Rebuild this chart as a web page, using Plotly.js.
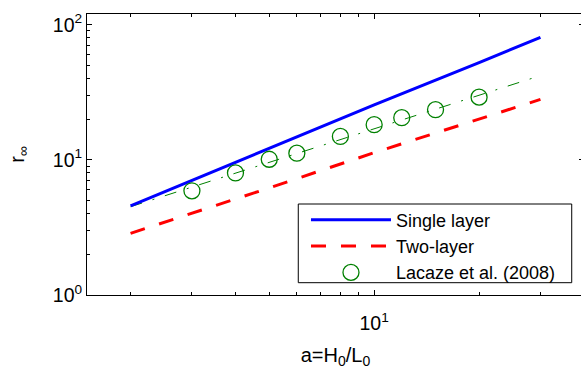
<!DOCTYPE html>
<html>
<head>
<meta charset="utf-8">
<script src="https://cdn.plot.ly/plotly-3.0.1.min.js"></script>
<style>
html,body{margin:0;padding:0;overflow:hidden;background:#fff;}
#chart{width:586px;height:370px;}
</style>
</head>
<body>
<div id="chart"></div>
<script>
// Single layer model (solid blue)
var singleX = [2, 5, 10, 20, 30];
var singleY = [4.56, 12.1, 25.5, 52.5, 80.5];
// Two-layer model (dashed red)
var twoX = [2, 5, 10, 20, 30];
var twoY = [2.86, 6.2, 11.3, 19.9, 28.0];
// Lacaze et al. (2008) measurements (open green circles)
var lacazeX = [3, 4, 5, 6, 8, 10, 12, 15, 20];
var lacazeY = [5.9, 8.0, 10.1, 11.2, 14.9, 18.2, 20.5, 23.5, 29.1];
// Fit through Lacaze data (green dash-dot, no legend entry)
var fitX = [2, 30];
var fitY = [4.5, 42];

var xMajor = [10];
var xMajorText = ['10<sup>1</sup>'];
var xMinor = [2, 3, 4, 5, 6, 7, 8, 9, 20, 30];
var yMajor = [1, 10, 100];
var yMajorText = ['10<sup>0</sup>', '10<sup>1</sup>', '10<sup>2</sup>'];
var yMinor = [2, 3, 4, 5, 6, 7, 8, 9, 20, 30, 40, 50, 60, 70, 80, 90];

var font = '"Liberation Sans", Arial, sans-serif';

var traces = [
  {x: fitX, y: fitY, mode: 'lines', showlegend: false, hoverinfo: 'skip',
   line: {color: '#008000', width: 1, dash: '12px,11px,2px,11px'}},
  {x: singleX, y: singleY, mode: 'lines', name: 'Single layer',
   line: {color: '#0000ff', width: 3}},
  {x: twoX, y: twoY, mode: 'lines', name: 'Two-layer',
   line: {color: '#ff0000', width: 3, dash: '15px,15px'}},
  {x: lacazeX, y: lacazeY, mode: 'markers', name: 'Lacaze et al. (2008)',
   marker: {symbol: 'circle-open', size: 16, color: '#008000', line: {width: 1.3, color: '#008000'}}}
];

var axisCommon = {
  type: 'log', showgrid: false, zeroline: false, showline: true, linecolor: '#000', linewidth: 1,
  mirror: 'ticks', ticks: 'inside', ticklen: 5, tickcolor: '#000', tickwidth: 1,
  tickmode: 'array', tickfont: {family: font, size: 19.5, color: '#000'}
};

var layout = {
  width: 586, height: 370,
  margin: {l: 87, r: 2, t: 14, b: 75},
  paper_bgcolor: '#fff', plot_bgcolor: '#fff',
  font: {family: font, color: '#000'},
  xaxis: Object.assign({}, axisCommon, {
    range: [Math.log10(1.5), Math.log10(40)],
    tickvals: xMajor, ticktext: xMajorText, ticklabelstandoff: 11,
    minor: {tickmode: 'array', tickvals: xMinor, ticks: 'inside', ticklen: 3, tickcolor: '#000', showgrid: false},
    title: {text: 'a=H<sub>0</sub>/L<sub>0</sub>', font: {family: font, size: 20, color: '#000'}, standoff: 14}
  }),
  yaxis: Object.assign({}, axisCommon, {
    range: [0, Math.log10(120)],
    tickvals: yMajor, ticktext: yMajorText,
    minor: {tickmode: 'array', tickvals: yMinor, ticks: 'inside', ticklen: 3, tickcolor: '#000', showgrid: false},
    title: {text: 'r<sub>\u221e</sub>', font: {family: font, size: 20, color: '#000'}, standoff: 22}
  }),
  legend: {
    x: 0.4406, y: 0.3330, xanchor: 'left', yanchor: 'top',
    bgcolor: 'rgba(0,0,0,0)', borderwidth: 0, itemwidth: 80,
    font: {family: font, size: 18, color: '#000'}, tracegroupgap: 0
  },
  shapes: [{
    type: 'rect', xref: 'paper', yref: 'paper', layer: 'above',
    x0: 0.4251, x1: 0.9753, y0: 0.0438, y1: 0.3238,
    fillcolor: '#fff', line: {color: '#000', width: 1}
  }],
  showlegend: true
};

Plotly.newPlot('chart', traces, layout, {displayModeBar: false, staticPlot: true});
</script>
</body>
</html>
